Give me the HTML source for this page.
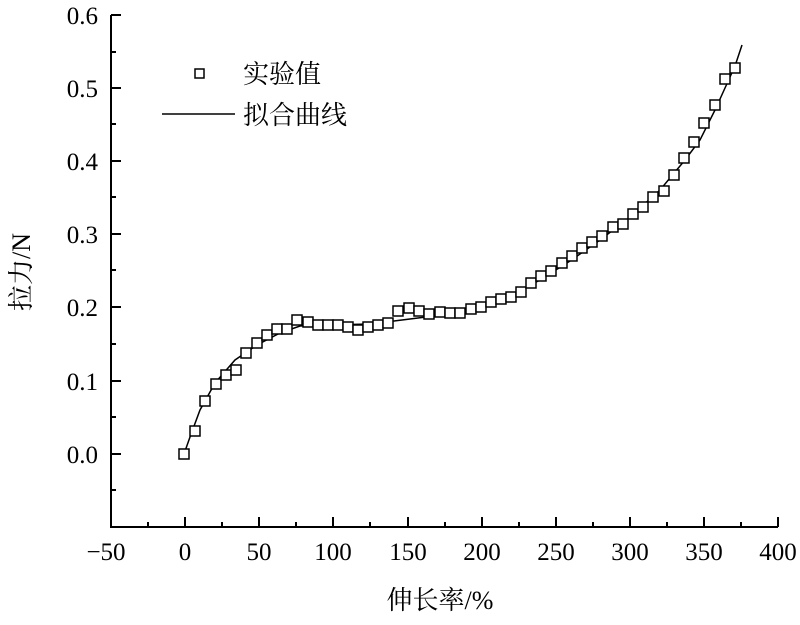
<!DOCTYPE html>
<html><head><meta charset="utf-8"><style>body{margin:0;background:#fff}</style></head><body>
<svg width="800" height="620" xmlns="http://www.w3.org/2000/svg" font-family="'Liberation Serif','Noto Serif CJK SC',serif">
<g stroke="#000" stroke-width="2" fill="none">
<path d="M111,15 V527 H778"/>
<path d="M111,15h10M111,52h5M111,88h10M111,124h5M111,161h10M111,197h5M111,234h10M111,270h5M111,307h10M111,344h5M111,381h10M111,417h5M111,454h10M111,490h5"/>
<path d="M111,527v-10M148,527v-5M185,527v-10M222,527v-5M259,527v-10M296,527v-5M333,527v-10M370,527v-5M408,527v-10M445,527v-5M482,527v-10M519,527v-5M556,527v-10M593,527v-5M630,527v-10M667,527v-5M704,527v-10M741,527v-5M778,527v-10"/>
</g>
<g font-size="25" text-anchor="end">
<text x="98" y="24">0.6</text><text x="98" y="97">0.5</text><text x="98" y="170">0.4</text><text x="98" y="243">0.3</text><text x="98" y="316">0.2</text><text x="98" y="390">0.1</text><text x="98" y="463">0.0</text>
</g>
<g font-size="25" text-anchor="middle">
<text x="106" y="560">−50</text><text x="185" y="560">0</text><text x="259" y="560">50</text><text x="333" y="560">100</text><text x="408" y="560">150</text><text x="482" y="560">200</text><text x="556" y="560">250</text><text x="630" y="560">300</text><text x="704" y="560">350</text><text x="778" y="560">400</text>
</g>
<text x="440" y="609" font-size="26" text-anchor="middle">伸长率/%</text>
<text transform="translate(30,272) rotate(-90)" font-size="26" text-anchor="middle">拉力/N</text>
<rect x="195" y="69" width="9" height="9" fill="none" stroke="#000" stroke-width="1.5"/>
<text x="243" y="83" font-size="26">实验值</text>
<line x1="162" y1="114" x2="235" y2="114" stroke="#000" stroke-width="1.5"/>
<text x="243" y="124" font-size="26">拟合曲线</text>
<polyline fill="none" stroke="#000" stroke-width="1.5" points="184,454 190,437 200,410 215,383 235,360 257,345 280,333 300,326 330,325 370,324 410,319 450,314 480,307 510,296 540,280 570,261 600,240 630,217 660,190 685,160 700,140 715,110 725,88 735,66 742,45"/>
<g fill="#fff" stroke="#000" stroke-width="1.5">
<rect x="179" y="449" width="10" height="10"/><rect x="190" y="426" width="10" height="10"/><rect x="200" y="396" width="10" height="10"/><rect x="211" y="379" width="10" height="10"/><rect x="221" y="370" width="10" height="10"/><rect x="231" y="365" width="10" height="10"/><rect x="241" y="348" width="10" height="10"/><rect x="252" y="338" width="10" height="10"/><rect x="262" y="330" width="10" height="10"/><rect x="272" y="324" width="10" height="10"/><rect x="282" y="324" width="10" height="10"/><rect x="292" y="315" width="10" height="10"/><rect x="303" y="317" width="10" height="10"/><rect x="313" y="320" width="10" height="10"/><rect x="323" y="320" width="10" height="10"/><rect x="333" y="320" width="10" height="10"/><rect x="343" y="322" width="10" height="10"/><rect x="353" y="325" width="10" height="10"/><rect x="363" y="322" width="10" height="10"/><rect x="373" y="320" width="10" height="10"/><rect x="383" y="318" width="10" height="10"/><rect x="393" y="306" width="10" height="10"/><rect x="404" y="303" width="10" height="10"/><rect x="414" y="306" width="10" height="10"/><rect x="424" y="309" width="10" height="10"/><rect x="435" y="307" width="10" height="10"/><rect x="445" y="308" width="10" height="10"/><rect x="455" y="308" width="10" height="10"/><rect x="466" y="304" width="10" height="10"/><rect x="476" y="302" width="10" height="10"/><rect x="486" y="297" width="10" height="10"/><rect x="496" y="294" width="10" height="10"/><rect x="506" y="292" width="10" height="10"/><rect x="516" y="287" width="10" height="10"/><rect x="526" y="278" width="10" height="10"/><rect x="536" y="271" width="10" height="10"/><rect x="546" y="266" width="10" height="10"/><rect x="557" y="258" width="10" height="10"/><rect x="567" y="251" width="10" height="10"/><rect x="577" y="243" width="10" height="10"/><rect x="587" y="237" width="10" height="10"/><rect x="597" y="231" width="10" height="10"/><rect x="608" y="222" width="10" height="10"/><rect x="618" y="219" width="10" height="10"/><rect x="628" y="209" width="10" height="10"/><rect x="638" y="202" width="10" height="10"/><rect x="648" y="192" width="10" height="10"/><rect x="659" y="186" width="10" height="10"/><rect x="669" y="170" width="10" height="10"/><rect x="679" y="153" width="10" height="10"/><rect x="689" y="137" width="10" height="10"/><rect x="699" y="118" width="10" height="10"/><rect x="710" y="100" width="10" height="10"/><rect x="720" y="74" width="10" height="10"/><rect x="730" y="63" width="10" height="10"/>
</g>
</svg>
</body></html>
